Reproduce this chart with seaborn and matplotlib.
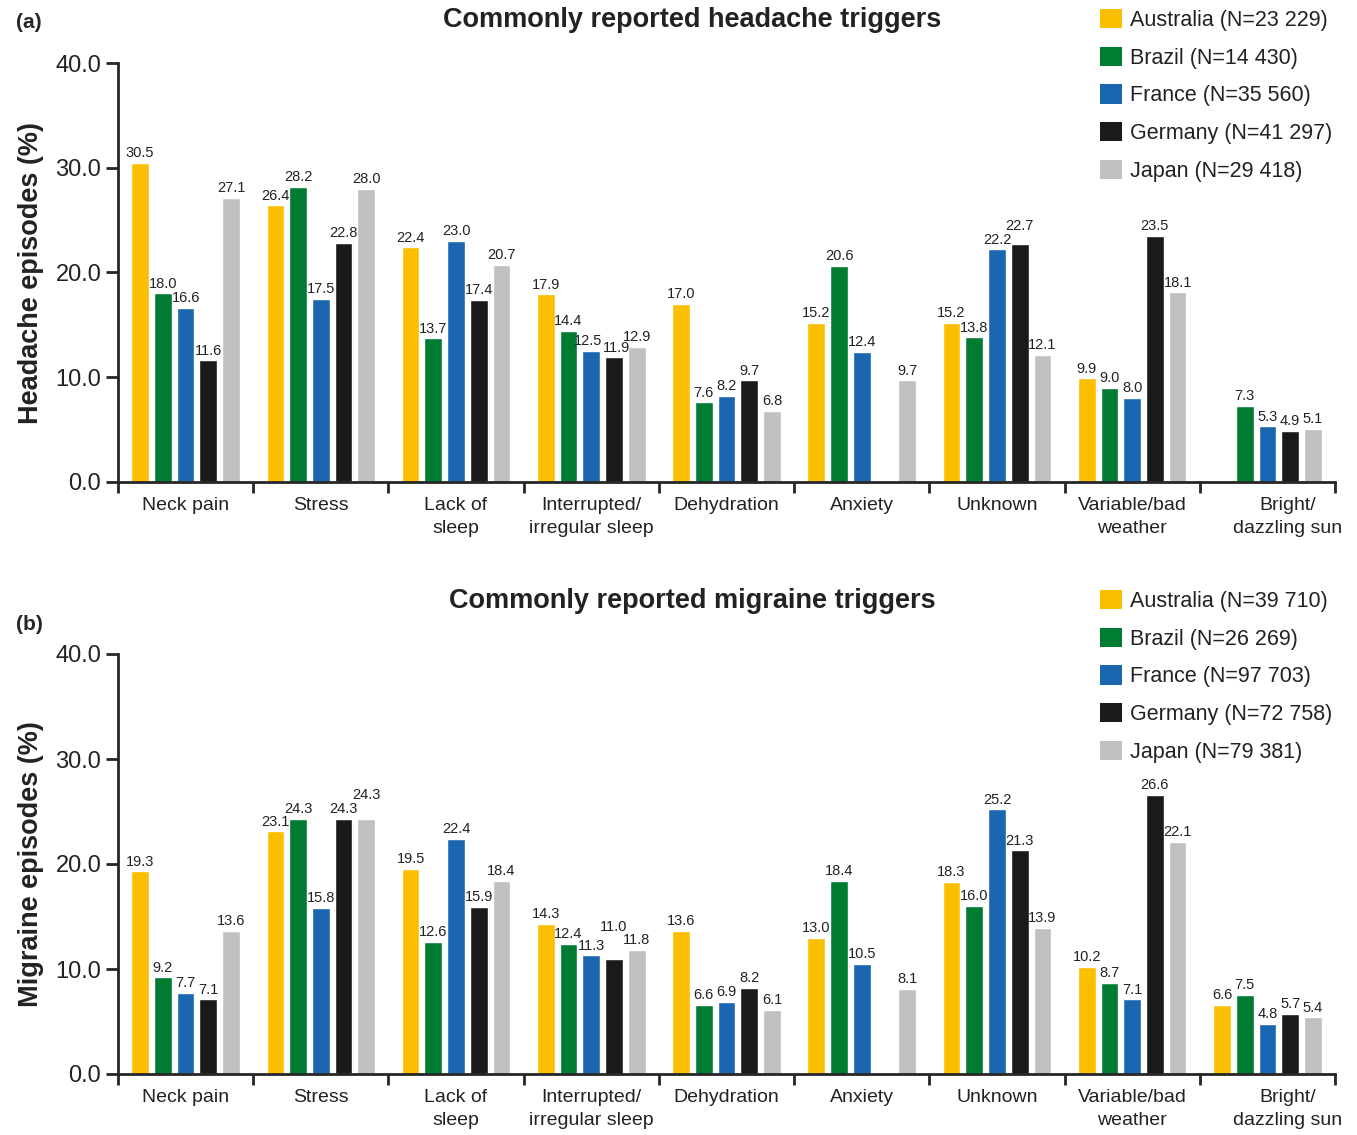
import numpy as np
import pandas as pd
import seaborn as sns
import matplotlib.pyplot as plt
from matplotlib.patches import Patch
from matplotlib.transforms import ScaledTranslation

triggers = ["Neck pain", "Stress", "Lack of\nsleep", "Interrupted/\nirregular sleep",
            "Dehydration", "Anxiety", "Unknown", "Variable/bad\nweather", "Bright/\ndazzling sun"]
countries = ["Australia", "Brazil", "France", "Germany", "Japan"]
colors = ["#FCBF00", "#007B32", "#1B66B1", "#1A1A1A", "#C0C0C0"]
nan = np.nan

# (a) headache
ha_australia = [30.5, 26.4, 22.4, 17.9, 17.0, 15.2, 15.2, 9.9, nan]
ha_brazil = [18.0, 28.2, 13.7, 14.4, 7.6, 20.6, 13.8, 9.0, 7.3]
ha_france = [16.6, 17.5, 23.0, 12.5, 8.2, 12.4, 22.2, 8.0, 5.3]
ha_germany = [11.6, 22.8, 17.4, 11.9, 9.7, nan, 22.7, 23.5, 4.9]
ha_japan = [27.1, 28.0, 20.7, 12.9, 6.8, 9.7, 12.1, 18.1, 5.1]
ha_n = ["23 229", "14 430", "35 560", "41 297", "29 418"]

# (b) migraine
mi_australia = [19.3, 23.1, 19.5, 14.3, 13.6, 13.0, 18.3, 10.2, 6.6]
mi_brazil = [9.2, 24.3, 12.6, 12.4, 6.6, 18.4, 16.0, 8.7, 7.5]
mi_france = [7.7, 15.8, 22.4, 11.3, 6.9, 10.5, 25.2, 7.1, 4.8]
mi_germany = [7.1, 24.3, 15.9, 11.0, 8.2, nan, 21.3, 26.6, 5.7]
mi_japan = [13.6, 24.3, 18.4, 11.8, 6.1, 8.1, 13.9, 22.1, 5.4]
mi_n = ["39 710", "26 269", "97 703", "72 758", "79 381"]

sns.set_style("ticks")
plt.rcParams['font.family'] = ['Liberation Sans', 'DejaVu Sans']

fig = plt.figure(figsize=(13.57, 11.35), dpi=100)
W, H = 1357, 1135


def make_df(series):
    rows = []
    for c, vals in zip(countries, series):
        for t, v in zip(triggers, vals):
            rows.append({"trigger": t, "country": c, "value": v})
    return pd.DataFrame(rows)


def value_labels(ax):
    # collect bars per group, then lift (or nudge) labels that would hit a neighbour
    groups = {}
    for cont in ax.containers:
        for b in cont:
            h = b.get_height()
            if not np.isfinite(h) or h <= 0:
                continue
            xc = b.get_x() + b.get_width() / 2
            groups.setdefault(int(round(xc)), []).append((xc, h))
    for bars in groups.values():
        bars.sort()
        prev_y, prev_raised, prev_h, prev_txt = None, False, None, None
        for i, (xc, h) in enumerate(bars):
            y = h
            raised = False
            dx = 0
            wide = prev_h is not None and h >= 10 and prev_h >= 10
            if wide and not prev_raised and abs(h - prev_y) < 0.55:
                top = prev_y
                if i + 1 < len(bars) and bars[i + 1][1] - h < 1.3:
                    top = max(top, bars[i + 1][1])
                y = top + 1.3
                raised = True
            elif wide and not prev_raised and abs(h - prev_y) < 1.0:
                dx = 2
                prev_txt.xyann = (prev_txt.xyann[0] - 2, prev_txt.xyann[1])
            txt = ax.annotate(f"{h:.1f}", (xc, y), xytext=(dx, 2), textcoords="offset points",
                              ha="center", va="bottom", fontsize=10.5, color="#222222")
            prev_y, prev_raised, prev_h, prev_txt = y, raised, h, txt


def panel(top_px, bottom_px, series, ns, ylabel, title, tag, title_y, tag_y):
    ax = fig.add_axes([118 / W, 1 - bottom_px / H, (1335 - 118) / W, (bottom_px - top_px) / H])
    df = make_df(series)
    sns.barplot(data=df, x="trigger", y="value", hue="country", order=triggers,
                hue_order=countries, palette=colors, saturation=1, width=0.84, gap=0.22,
                errorbar=None, ax=ax, legend=False)
    value_labels(ax)
    ax.set_ylim(0, 40)
    ax.set_xlim(-0.5, 8.5)
    ax.set_yticks([0, 10, 20, 30, 40])
    ax.set_yticklabels(["0.0", "10.0", "20.0", "30.0", "40.0"], fontsize=17, color="#222222")
    ax.set_xticks(range(len(triggers)))
    ax.set_xticklabels(triggers, fontsize=14, linespacing=1.45, color="#222222")
    ax.set_xticks(np.arange(-0.5, 9, 1), minor=True)
    ax.tick_params(axis="x", which="major", length=0, pad=11)
    ax.tick_params(axis="x", which="minor", length=8, width=2, direction="out")
    ax.tick_params(axis="y", length=9, width=2, direction="out", pad=3)
    last = ax.get_xticklabels()[-1]
    last.set_transform(last.get_transform() + ScaledTranslation(0.2, 0, fig.dpi_scale_trans))
    ax.set_xlabel("")
    ax.set_ylabel(ylabel, fontsize=19.5, fontweight="bold", labelpad=8, color="#222222")
    sns.despine(ax=ax)
    for s in ["left", "bottom"]:
        ax.spines[s].set_linewidth(2)
    fig.text(692 / W, 1 - title_y / H, title, fontsize=19.5, fontweight="bold",
             ha="center", va="center", color="#222222")
    fig.text(16 / W, 1 - tag_y / H, tag, fontsize=15, fontweight="bold", va="center")
    handles = [Patch(facecolor=col, edgecolor="none") for col in colors]
    labels = [f"{c} (N={n})" for c, n in zip(countries, ns)]
    fig.legend(handles, labels, loc="upper left",
               bbox_to_anchor=(1100 / W, 1 - (title_y - 11) / H),
               frameon=False, fontsize=15.5, handlelength=1.0, handleheight=1.0,
               handletextpad=0.4, labelspacing=0.73, borderpad=0, borderaxespad=0,
               labelcolor="#222222")
    return ax


panel(63, 482, [ha_australia, ha_brazil, ha_france, ha_germany, ha_japan], ha_n,
      "Headache episodes (%)", "Commonly reported headache triggers", "(a)", 20, 22)
panel(654, 1074, [mi_australia, mi_brazil, mi_france, mi_germany, mi_japan], mi_n,
      "Migraine episodes (%)", "Commonly reported migraine triggers", "(b)", 601, 624)

fig.savefig("out.png", dpi=100)
